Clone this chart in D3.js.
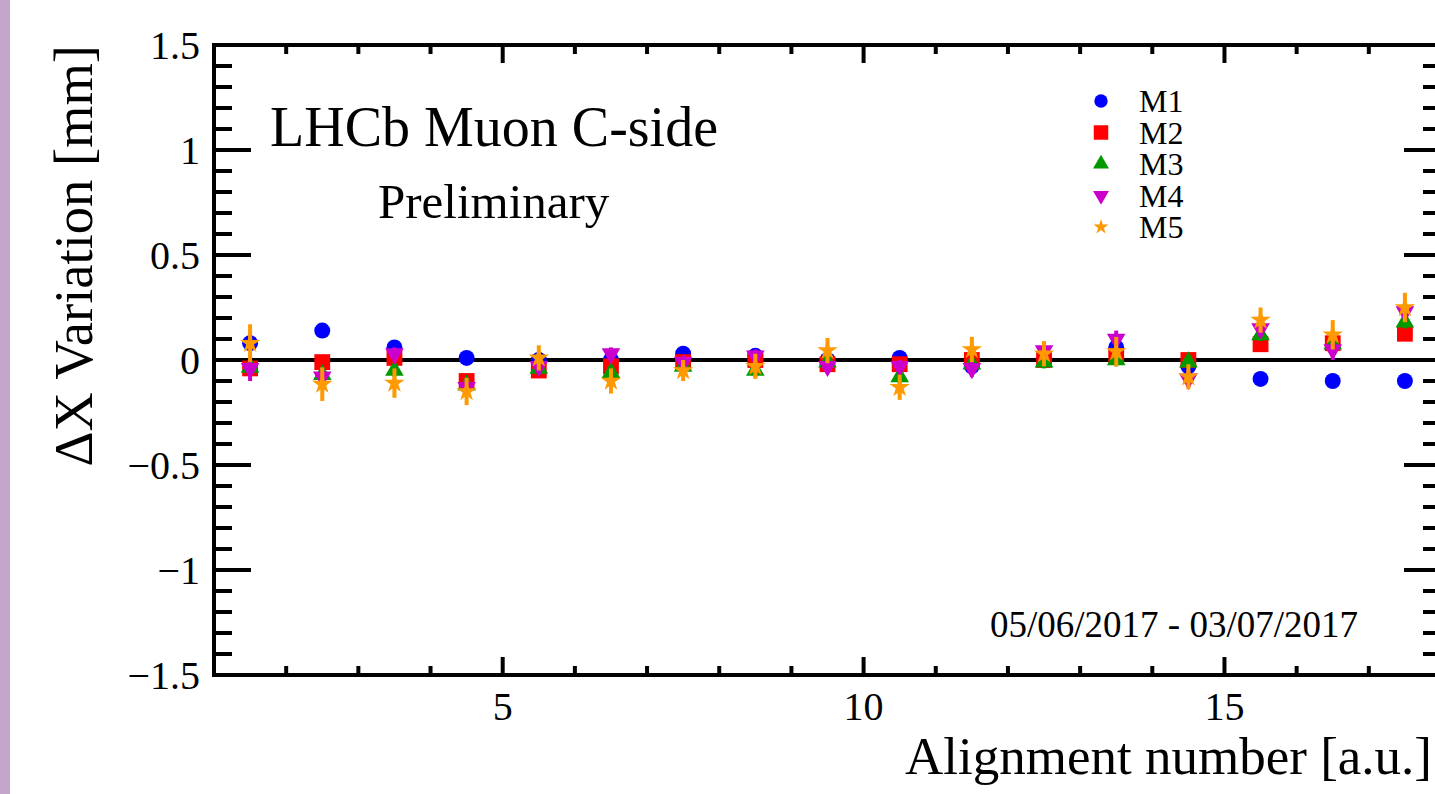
<!DOCTYPE html>
<html>
<head>
<meta charset="utf-8">
<script src="https://cdn.jsdelivr.net/npm/d3@7"></script>
<style>
  html, body { margin: 0; padding: 0; background: #fff; }
  svg text { font-family: "Liberation Serif", "DejaVu Serif", serif; fill: #000; }
</style>
</head>
<body>
<div id="grafico"></div>
<script>
// alignment numbers (bin centres)
const alignX = [1.5, 2.5, 3.5, 4.5, 5.5, 6.5, 7.5, 8.5, 9.5, 10.5, 11.5, 12.5, 13.5, 14.5, 15.5, 16.5, 17.5];

// delta X per station [mm]
const m1 = [0.08, 0.14, 0.06, 0.01, 0.0, 0.0, 0.03, 0.02, 0.0, 0.01, -0.03, 0.0, 0.06, -0.03, -0.09, -0.10, -0.10];
const m2 = [-0.04, -0.01, 0.01, -0.10, -0.05, -0.03, -0.01, 0.0, -0.02, -0.02, 0.0, 0.0, 0.02, 0.0, 0.075, 0.08, 0.125];
const m3 = [-0.035, -0.07, -0.05, -0.12, -0.04, -0.06, -0.03, -0.05, -0.01, -0.08, -0.02, -0.01, 0.0, -0.01, 0.12, 0.075, 0.18];
const m4 = [-0.04, -0.08, 0.03, -0.13, -0.03, 0.03, -0.01, 0.02, -0.03, -0.03, -0.04, 0.045, 0.10, -0.09, 0.15, 0.05, 0.23];
const m5 = [0.08, -0.115, -0.11, -0.15, 0.01, -0.10, -0.05, -0.03, 0.045, -0.13, 0.05, 0.03, 0.04, -0.08, 0.19, 0.12, 0.25];

// errors
const m1Err = [0.02, 0.02, 0.02, 0.02, 0.02, 0.02, 0.02, 0.02, 0.02, 0.02, 0.02, 0.02, 0.02, 0.02, 0.02, 0.02, 0.02];
const m2Err = [0.03, 0.03, 0.03, 0.03, 0.03, 0.03, 0.03, 0.03, 0.03, 0.03, 0.03, 0.03, 0.03, 0.03, 0.03, 0.03, 0.03];
const m3Err = [0.03, 0.03, 0.03, 0.03, 0.03, 0.03, 0.03, 0.03, 0.03, 0.03, 0.03, 0.03, 0.03, 0.03, 0.03, 0.03, 0.03];
const m4Err = [0.06, 0.04, 0.03, 0.04, 0.03, 0.03, 0.03, 0.03, 0.03, 0.03, 0.04, 0.03, 0.04, 0.04, 0.04, 0.05, 0.04];
const m5Err = [0.09, 0.08, 0.07, 0.065, 0.06, 0.06, 0.05, 0.06, 0.06, 0.06, 0.06, 0.06, 0.07, 0.06, 0.06, 0.07, 0.07];

const seriesNames = ['M1', 'M2', 'M3', 'M4', 'M5'];
const yTicksMajor = [-1.5, -1, -0.5, 0, 0.5, 1, 1.5];
const xTicksMajor = [5, 10, 15];

const width = 1435;
const height = 794;

const series = [
    { name: seriesNames[0], values: m1, err: m1Err, color: '#0000ff', shape: d3.symbolCircle, size: 200, rot: 0, leg: 140 },
    { name: seriesNames[1], values: m2, err: m2Err, color: '#ff0000', shape: d3.symbolSquare, size: 250, rot: 0, leg: 210 },
    { name: seriesNames[2], values: m3, err: m3Err, color: '#009900', shape: d3.symbolTriangle, size: 150, rot: 0, leg: 110 },
    { name: seriesNames[3], values: m4, err: m4Err, color: '#cc00cc', shape: d3.symbolTriangle, size: 150, rot: 180, leg: 110 },
    { name: seriesNames[4], values: m5, err: m5Err, color: '#ff9900', shape: d3.symbolStar, size: 130, rot: 0, leg: 70 }
];

const svg = d3.select('#grafico')
    .append('svg')
    .attr('width', width)
    .attr('height', height);

// purple strip on the left
svg.append('rect')
    .attr('x', 0).attr('y', 0)
    .attr('width', 10).attr('height', height)
    .attr('fill', '#c4a6cc');

const x = d3.scaleLinear().domain([1, 18]).range([214, 1441]);
const y = d3.scaleLinear().domain([-1.5, 1.5]).range([675, 45]);

// ticks
const yMinor = d3.range(-15, 16).map(d => d / 10);
const xMinor = d3.range(1, 19);

const ticks = svg.append('g').attr('stroke', '#000').attr('stroke-width', 4);

yMinor.forEach(v => {
    const major = yTicksMajor.some(t => Math.abs(t - v) < 1e-6);
    const len = major ? 37 : 18;
    ticks.append('line').attr('x1', x(1)).attr('x2', x(1) + len).attr('y1', y(v)).attr('y2', y(v));
    ticks.append('line').attr('x1', x(18)).attr('x2', x(18) - len).attr('y1', y(v)).attr('y2', y(v));
});
xMinor.forEach(v => {
    const len = xTicksMajor.includes(v) ? 18 : 9;
    ticks.append('line').attr('x1', x(v)).attr('x2', x(v)).attr('y1', y(-1.5)).attr('y2', y(-1.5) - len);
    ticks.append('line').attr('x1', x(v)).attr('x2', x(v)).attr('y1', y(1.5)).attr('y2', y(1.5) + len);
});

// frame
svg.append('rect')
    .attr('x', x(1)).attr('y', y(1.5))
    .attr('width', x(18) - x(1)).attr('height', y(-1.5) - y(1.5))
    .attr('fill', 'none').attr('stroke', '#000').attr('stroke-width', 4);

// zero line
svg.append('line')
    .attr('x1', x(1)).attr('x2', x(18))
    .attr('y1', y(0)).attr('y2', y(0))
    .attr('stroke', '#000').attr('stroke-width', 4);

// tick labels
const fmtY = d => (d < 0 ? '\u2212' : '') + Math.abs(d);
svg.selectAll('.ylab')
    .data(yTicksMajor)
    .enter()
    .append('text')
    .attr('class', 'ylab')
    .attr('x', 200)
    .attr('y', d => y(d) + 14)
    .attr('text-anchor', 'end')
    .style('font-size', '40px')
    .text(fmtY);

svg.selectAll('.xlab')
    .data(xTicksMajor)
    .enter()
    .append('text')
    .attr('class', 'xlab')
    .attr('x', d => x(d))
    .attr('y', 720)
    .attr('text-anchor', 'middle')
    .style('font-size', '40px')
    .text(d => d);

// axis titles
svg.append('text')
    .attr('x', 1432).attr('y', 774)
    .attr('text-anchor', 'end')
    .style('font-size', '53px')
    .text('Alignment number [a.u.]');

svg.append('text')
    .attr('transform', 'translate(92,45) rotate(-90)')
    .attr('text-anchor', 'end')
    .style('font-size', '54.5px')
    .text('\u0394X Variation [mm]');

// labels inside the frame
svg.append('text').attr('x', 270).attr('y', 146).style('font-size', '56px').text('LHCb Muon C-side');
svg.append('text').attr('x', 378).attr('y', 218).style('font-size', '49px').text('Preliminary');
svg.append('text').attr('x', 990).attr('y', 637).style('font-size', '37px').text('05/06/2017 - 03/07/2017');

// data
series.forEach(s => {
    const pts = alignX.map((xv, i) => ({ x: xv, y: s.values[i], e: s.err[i] }));
    const g = svg.append('g');
    g.selectAll('line')
        .data(pts)
        .enter()
        .append('line')
        .attr('x1', d => x(d.x)).attr('x2', d => x(d.x))
        .attr('y1', d => y(d.y - d.e)).attr('y2', d => y(d.y + d.e))
        .attr('stroke', s.color).attr('stroke-width', 4);
    g.selectAll('path')
        .data(pts)
        .enter()
        .append('path')
        .attr('d', d3.symbol().type(s.shape).size(s.size))
        .attr('transform', d => `translate(${x(d.x)},${y(d.y)}) rotate(${s.rot})`)
        .attr('fill', s.color);
});

// legend
const legenda = svg.append('g').attr('transform', 'translate(1101,101)');
series.forEach((s, i) => {
    legenda.append('path')
        .attr('d', d3.symbol().type(s.shape).size(s.leg))
        .attr('transform', `translate(0,${i * 31.5}) rotate(${s.rot})`)
        .attr('fill', s.color);
    legenda.append('text')
        .attr('x', 38)
        .attr('y', i * 31.5 + 11)
        .style('font-size', '32px')
        .text(s.name);
});
</script>
</body>
</html>
